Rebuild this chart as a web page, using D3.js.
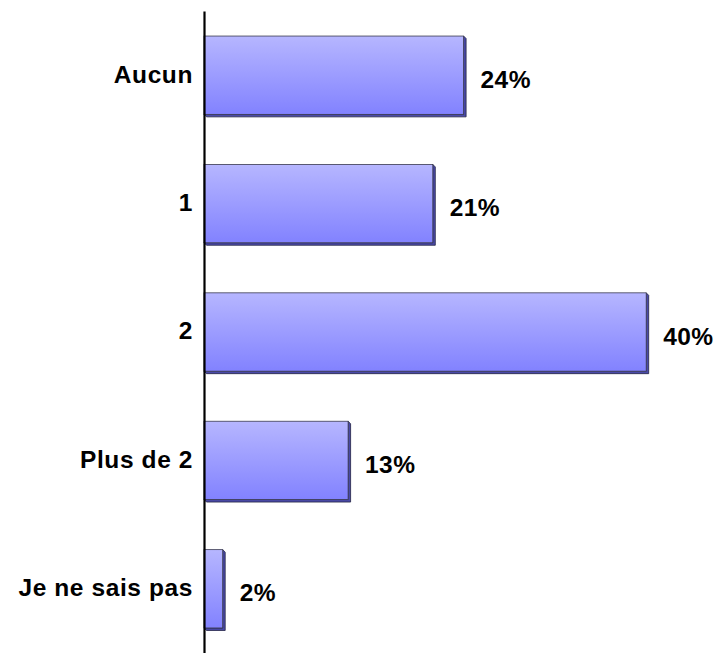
<!DOCTYPE html>
<html>
<head>
<meta charset="utf-8">
<script src="https://cdn.jsdelivr.net/npm/d3@7"></script>
<style>
html,body{margin:0;padding:0;background:#fff;}
svg{display:block;}
text{font-family:"Liberation Sans",Arial,sans-serif;font-weight:bold;fill:#000;}
</style>
</head>
<body>
<svg id="chart" width="720" height="653"></svg>
<script>
const categories = ["Aucun", "1", "2", "Plus de 2", "Je ne sais pas"];
const values = [23.6, 20.8, 40.2, 13.1, 1.7];
const valueLabels = ["24%", "21%", "40%", "13%", "2%"];

const svg = d3.select("#chart");
const x = d3.scaleLinear().domain([0, 45]).range([204, 204 + 45 * 11]);
const y = d3.scaleBand().domain(categories).range([11, 653]).paddingInner(0.39).paddingOuter(0.195);

const defs = svg.append("defs");
const grad = defs.append("linearGradient").attr("id", "barGrad")
  .attr("x1", 0).attr("y1", 0).attr("x2", 0).attr("y2", 1);
grad.append("stop").attr("offset", "0%").attr("stop-color", "#b6b6ff");
grad.append("stop").attr("offset", "100%").attr("stop-color", "#8282ff");

const data = categories.map((c, i) => ({c, v: values[i], l: valueLabels[i]}));

const g = svg.append("g");
// 3D shadow side
g.selectAll("path.shadow").data(data).enter().append("path")
  .attr("class", "shadow")
  .attr("d", d => {
    const x0 = x(0), x1 = x(d.v), y0 = y(d.c), y1 = y(d.c) + y.bandwidth(), o = 2.5;
    return `M${x0},${y1} L${x0 + o},${y1 + o} L${x1 + o},${y1 + o} L${x1 + o},${y0 + o} L${x1},${y0} L${x1},${y1} Z`;
  })
  .attr("fill", "#4a4aa8")
  .attr("stroke", "#222244")
  .attr("stroke-width", 0.8);

g.selectAll("rect.bar").data(data).enter().append("rect")
  .attr("class", "bar")
  .attr("x", x(0))
  .attr("y", d => y(d.c))
  .attr("width", d => x(d.v) - x(0))
  .attr("height", y.bandwidth())
  .attr("fill", "url(#barGrad)")
  .attr("stroke", "#3a3a50")
  .attr("stroke-width", 0.8);

// axis line
const axis = d3.axisLeft(y).tickSize(0).tickPadding(11);
const ag = svg.append("g").attr("transform", `translate(${x(0)},0)`).call(axis);
ag.select(".domain").attr("stroke", "#000").attr("stroke-width", 2.2);
ag.selectAll(".tick text")
  .attr("font-family", "Liberation Sans, Arial, sans-serif")
  .attr("font-weight", "bold")
  .attr("font-size", 24.5)
  .attr("letter-spacing", "0.6px")
  .attr("fill", "#000")
  .attr("dy", "0.3em");

// value labels
svg.selectAll("text.val").data(data).enter().append("text")
  .attr("class", "val")
  .attr("x", d => x(d.v) + 17)
  .attr("y", d => y(d.c) + y.bandwidth() / 2 + 12.5)
  .attr("font-size", 24.5)
  .attr("letter-spacing", "0.4px")
  .text(d => d.l);
</script>
</body>
</html>
